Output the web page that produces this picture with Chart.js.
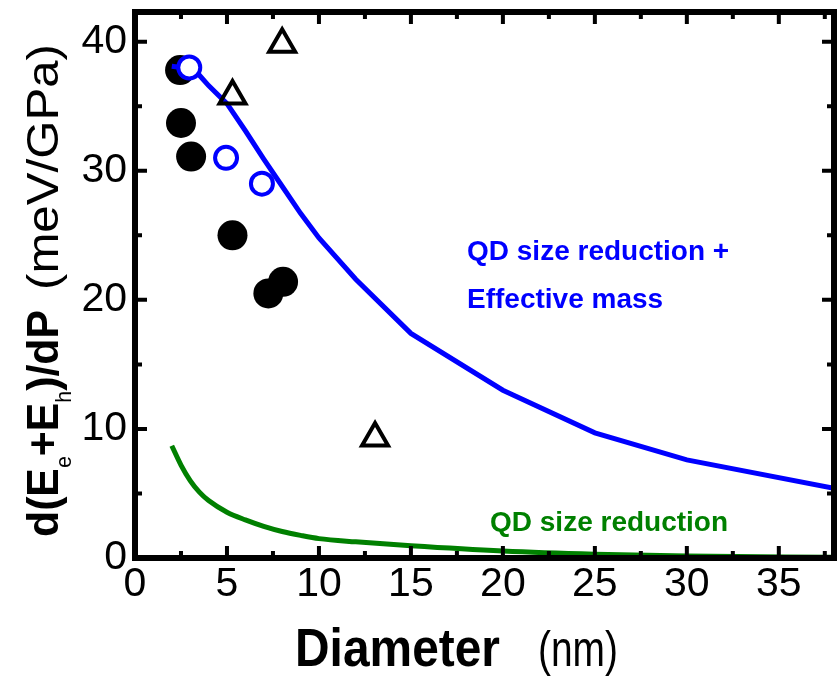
<!DOCTYPE html>
<html>
<head>
<meta charset="utf-8">
<script src="https://cdn.jsdelivr.net/npm/chart.js@4.4.0/dist/chart.umd.min.js"></script>
<title>d(Ee+Eh)/dP vs diameter</title>
<style>body{margin:0;background:#fff}</style>
</head>
<body>
<canvas id="chart" width="839" height="679"></canvas>
<script>
// model curves (nm, meV/GPa)
const effMassX = [2, 3, 3.5, 4, 5, 6, 7, 8, 9, 10, 12, 15, 20, 25, 30, 38];
const effMassY = [38.1, 37.9, 37.4, 36.6, 35.2, 33.1, 30.9, 28.8, 26.7, 24.8, 21.6, 17.4, 13.0, 9.7, 7.6, 5.4];
const sizeOnlyX = [2, 2.5, 3, 3.5, 4, 5, 6, 7, 8, 9, 10, 12, 15, 20, 25, 30, 38];
const sizeOnlyY = [8.7, 7.2, 6.0, 5.1, 4.45, 3.55, 2.95, 2.45, 2.05, 1.75, 1.5, 1.25, 0.95, 0.55, 0.3, 0.15, 0.05];

// measured points
const filledX = [2.45, 2.5, 3.05, 5.3, 7.25, 8.05];
const filledY = [37.8, 33.7, 31.1, 25.0, 20.5, 21.4];
const openX = [2.95, 4.95, 6.9];
const openY = [38.0, 31.0, 29.0];
const triX = [8.0, 5.3, 13.05];
const triY = [39.8, 35.8, 9.3];

const xMax = 38;
const yMax = 42.3;

const textFont = "'Liberation Sans', Arial, sans-serif";

function pts(xs, ys) {
	return xs.map((x, i) => ({x: x, y: ys[i]}));
}

// thick box with inward ticks on all four sides
const frame = {
	id: 'frame',
	afterDatasetsDraw(chart) {
		const ctx = chart.ctx;
		const a = chart.chartArea;
		const sx = chart.scales.x, sy = chart.scales.y;
		ctx.save();
		ctx.strokeStyle = '#000';
		ctx.lineWidth = 4;
		for (let v = 2.5; v < xMax; v += 2.5) {
			const px = sx.getPixelForValue(v);
			const len = (v % 5 === 0) ? 12 : 7;
			ctx.beginPath();
			ctx.moveTo(px, a.bottom); ctx.lineTo(px, a.bottom - len);
			ctx.moveTo(px, a.top); ctx.lineTo(px, a.top + len);
			ctx.stroke();
		}
		for (let v = 5; v < yMax; v += 5) {
			const py = sy.getPixelForValue(v);
			const len = (v % 10 === 0) ? 12 : 7;
			ctx.beginPath();
			ctx.moveTo(a.left, py); ctx.lineTo(a.left + len, py);
			ctx.moveTo(a.right, py); ctx.lineTo(a.right - len, py);
			ctx.stroke();
		}
		ctx.lineWidth = 6;
		ctx.strokeRect(a.left, a.top, a.right - a.left, a.bottom - a.top);
		ctx.restore();
	}
};

function fitText(ctx, text, font, x, y, w) {
	ctx.font = font;
	const k = w / ctx.measureText(text).width;
	ctx.save();
	ctx.translate(x, y);
	ctx.scale(k, 1);
	ctx.fillText(text, 0, 0);
	ctx.restore();
}

// axis titles and curve labels
const titles = {
	id: 'titles',
	afterDraw(chart) {
		const ctx = chart.ctx;
		ctx.save();
		ctx.fillStyle = '#000';
		ctx.textBaseline = 'alphabetic';
		ctx.textAlign = 'left';

		fitText(ctx, 'Diameter', 'bold 54px ' + textFont, 295, 666, 205);
		fitText(ctx, '(nm)', '50px ' + textFont, 538, 666, 80);

		// rotated y title with subscripts
		const bold = 'bold 44px ' + textFont;
		const sub = '22px ' + textFont;
		const parts = [
			{t: 'd(E', f: bold, dy: 0},
			{t: 'e', f: sub, dy: 13},
			{t: '+E', f: bold, dy: 0},
			{t: 'h', f: sub, dy: 13},
			{t: ')/dP', f: bold, dy: 0}
		];
		let total = 0;
		parts.forEach(p => { ctx.font = p.f; p.w = ctx.measureText(p.t).width; total += p.w; });
		ctx.save();
		ctx.translate(58, 537);
		ctx.rotate(-Math.PI / 2);
		ctx.scale(227 / total, 1);
		let cx = 0;
		parts.forEach(p => { ctx.font = p.f; ctx.fillText(p.t, cx, p.dy); cx += p.w; });
		ctx.restore();

		ctx.save();
		ctx.translate(58, 290);
		ctx.rotate(-Math.PI / 2);
		fitText(ctx, '(meV/GPa)', '44px ' + textFont, 0, 0, 246);
		ctx.restore();

		ctx.font = 'bold 28px ' + textFont;
		ctx.fillStyle = '#0000ff';
		ctx.fillText('QD size reduction +', 467, 260);
		ctx.fillText('Effective mass', 467, 308);
		ctx.fillStyle = '#008000';
		ctx.fillText('QD size reduction', 490, 531);
		ctx.restore();
	}
};

const ctx = document.getElementById('chart').getContext('2d');
new Chart(ctx, {
	type: 'scatter',
	data: {
		datasets: [
			{
				data: pts(triX, triY),
				pointStyle: 'triangle',
				pointRadius: 15,
				borderColor: '#000',
				backgroundColor: 'rgba(0,0,0,0)',
				borderWidth: 4
			},
			{
				data: pts(openX, openY),
				pointRadius: 11,
				borderColor: '#0000ff',
				backgroundColor: '#fff',
				borderWidth: 4
			},
			{
				data: pts(sizeOnlyX, sizeOnlyY),
				showLine: true,
				borderColor: '#008000',
				borderWidth: 5,
				pointRadius: 0,
				cubicInterpolationMode: 'monotone'
			},
			{
				data: pts(effMassX, effMassY),
				showLine: true,
				borderColor: '#0000ff',
				borderWidth: 5,
				pointRadius: 0,
				tension: 0
			},
			{
				data: pts(filledX, filledY),
				pointRadius: 15,
				backgroundColor: '#000',
				borderWidth: 0
			}
		]
	},
	options: {
		responsive: false,
		animation: false,
		devicePixelRatio: 1,
		layout: {autoPadding: false, padding: {top: 12, right: 5, left: 0, bottom: 0}},
		plugins: {legend: {display: false}, tooltip: {enabled: false}},
		scales: {
			x: {
				type: 'linear',
				min: 0,
				max: xMax,
				grid: {display: false, drawTicks: false},
				border: {display: false},
				ticks: {stepSize: 5, includeBounds: false, padding: 2, maxRotation: 0, color: '#000',
					font: {family: textFont, size: 41}},
				afterFit(s) { s.height = 121; s.paddingLeft = 0; s.paddingRight = 0; }
			},
			y: {
				type: 'linear',
				min: 0,
				max: yMax,
				grid: {display: false, drawTicks: false},
				border: {display: false},
				ticks: {stepSize: 10, includeBounds: false, padding: 8, color: '#000',
					font: {family: textFont, size: 41}},
				afterFit(s) { s.width = 135; s.paddingTop = 0; s.paddingBottom = 0; }
			}
		}
	},
	plugins: [frame, titles]
});
</script>
</body>
</html>
